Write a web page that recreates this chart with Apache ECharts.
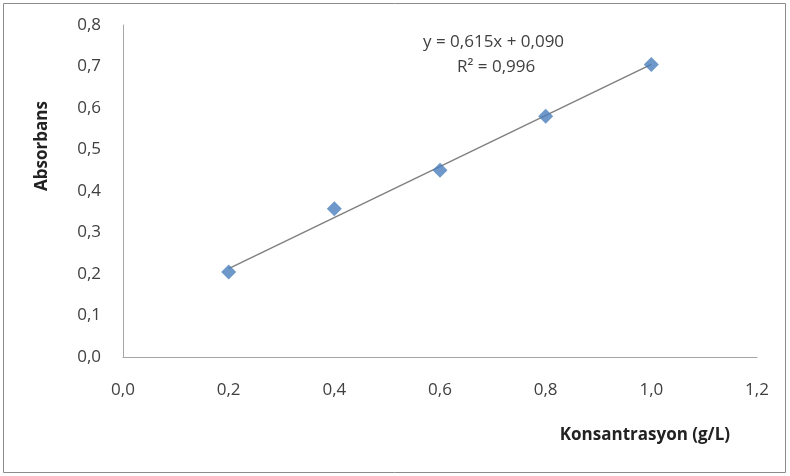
<!DOCTYPE html>
<html>
<head>
    <meta charset="utf-8">
    <title>index</title>
    <style>
        html, body { margin: 0; padding: 0; background: #fff; }
        #container { width: 790px; height: 476px; }
    </style>
</head>
<body>
    <div id="container"></div>
    <script src="https://cdn.jsdelivr.net/npm/echarts@6/dist/echarts.min.js"></script>
    <script type="text/javascript">
    // konsantrasyon (g/L) ve absorbans
    var konsantrasyon = [0.2, 0.4, 0.6, 0.8, 1.0];
    var absorbans = [0.205, 0.357, 0.45, 0.58, 0.705];
    // trend çizgisi: y = 0,615x + 0,090
    var egim = 0.615;
    var kesisim = 0.090;
    var trendX = [0.2, 1.0];
    var denklemMetni = ['y = 0,615x + 0,090', 'R² = 0,996'];

    var noktalar = konsantrasyon.map(function (x, i) { return [x, absorbans[i]]; });
    var trend = trendX.map(function (x) { return [x, egim * x + kesisim]; });

    function virgul(v) {
        return v.toFixed(1).replace('.', ',');
    }

    var myChart = echarts.init(document.getElementById('container'));
    var font = '"Open Sans", Lato, sans-serif';

    var option = {
        backgroundColor: '#fff',
        animation: false,
        textStyle: { fontFamily: font },
        grid: { left: 123, right: 33, top: 25, bottom: 119 },
        graphic: [
            {
                type: 'rect',
                shape: { x: 3.5, y: 3.5, width: 782, height: 469 },
                style: { fill: null, stroke: '#8c8c8c', lineWidth: 1 },
                z: 0
            },
            {
                type: 'text',
                left: 423,
                top: 34,
                style: {
                    text: denklemMetni[0],
                    font: '17px ' + font,
                    fill: '#404040'
                }
            },
            {
                type: 'text',
                left: 457,
                top: 59,
                style: {
                    text: denklemMetni[1],
                    font: '17px ' + font,
                    fill: '#404040'
                }
            }
        ],
        xAxis: {
            type: 'value',
            min: 0,
            max: 1.2,
            interval: 0.2,
            name: 'Konsantrasyon (g/L)',
            nameLocation: 'end',
            nameGap: 0,
            nameTextStyle: {
                fontWeight: 'bold',
                fontSize: 17,
                color: '#222',
                align: 'right',
                verticalAlign: 'top',
                padding: [70, 27, 0, 0]
            },
            axisLine: { show: true, lineStyle: { color: '#a6a6a6', width: 1 } },
            axisTick: { show: false },
            splitLine: { show: false },
            axisLabel: {
                color: '#404040',
                fontSize: 17,
                margin: 25,
                formatter: virgul
            }
        },
        yAxis: {
            type: 'value',
            min: 0,
            max: 0.8,
            interval: 0.1,
            name: 'Absorbans',
            nameLocation: 'middle',
            nameRotate: 90,
            nameGap: 72,
            nameTextStyle: {
                fontWeight: 'bold',
                fontSize: 17,
                color: '#222',
                padding: [0, 0, 0, 90]
            },
            axisLine: { show: true, lineStyle: { color: '#a6a6a6', width: 1 } },
            axisTick: { show: false },
            splitLine: { show: false },
            axisLabel: {
                color: '#404040',
                fontSize: 17,
                margin: 22,
                formatter: virgul
            }
        },
        series: [
            {
                type: 'line',
                data: trend,
                symbol: 'none',
                lineStyle: { color: '#808080', width: 1.5 },
                z: 2
            },
            {
                type: 'scatter',
                data: noktalar,
                symbol: 'diamond',
                symbolSize: [15, 15],
                itemStyle: { color: '#4a7ebb' },
                z: 3
            }
        ]
    };
    myChart.setOption(option, true);
    </script>
</body>
</html>
